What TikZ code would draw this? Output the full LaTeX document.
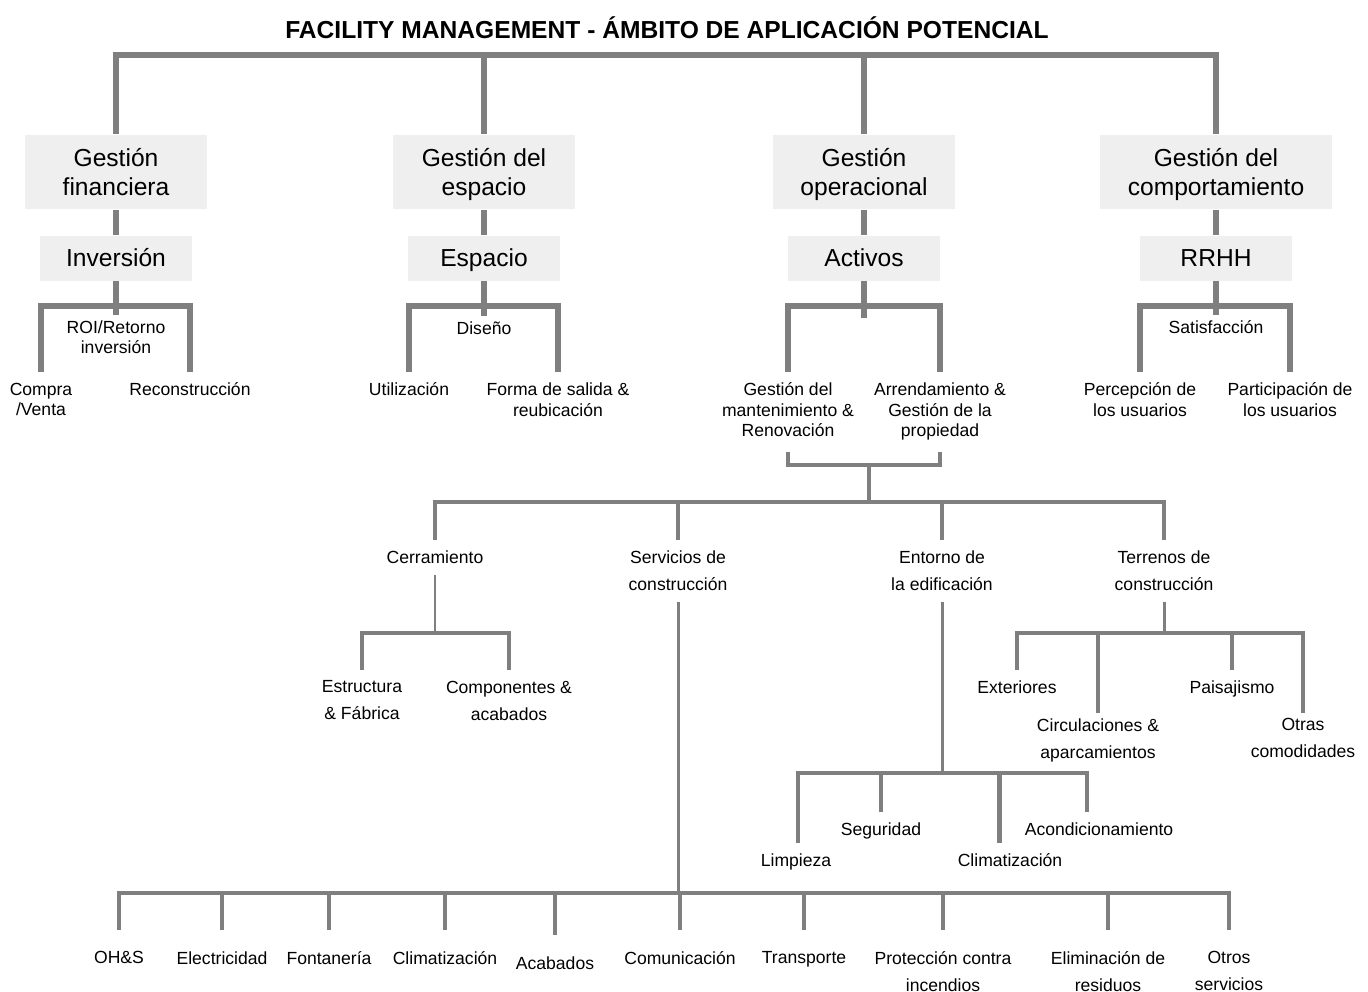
\documentclass[tikz,border=0pt]{standalone}
\usepackage{fontspec}
\setmainfont{Liberation Sans}
\usepackage{xcolor}
\usetikzlibrary{positioning}

\definecolor{lnGray}{HTML}{7F7F7F}
\definecolor{boxGray}{HTML}{EFEFEF}

\tikzset{
  area/.style={fill=boxGray, align=center, inner sep=0pt,
    minimum width=3.66cm, minimum height=1.5cm,
    text height=26.5pt, text depth=0pt,
    font=\fontsize{14}{16.5}\selectfont},
  subarea/.style={area, minimum width=3.04cm, minimum height=0.9cm,
    text height=10pt},
  leaf/.style={align=center, anchor=north, inner xsep=2pt, inner ysep=6pt,
    font=\fontsize{10}{11.6}\selectfont},
  midleaf/.style={leaf, inner ysep=3pt},
  leaftall/.style={leaf, font=\fontsize{10}{15.3}\selectfont},
  midtall/.style={leaftall, inner ysep=3pt},
  baseleaf/.style={leaftall, inner ysep=12pt},
  trunk/.style={color=lnGray, draw, line width=3.4pt},
  branch/.style={color=lnGray, draw, line width=2.4pt},
  stem/.style={color=lnGray, draw, line width=1.7pt},
  twig/.style={color=lnGray, draw, line width=1.1pt}
}

\begin{document}
\begin{tikzpicture}[x=0.02cm, y=-0.02cm]
  \useasboundingbox (0,0) rectangle (1368,991);
  \node[font=\fontsize{14}{16}\selectfont\bfseries] (title) at (667,28)
    {FACILITY MANAGEMENT - ÁMBITO DE APLICACIÓN POTENCIAL};

  % areas
  \node[area] (fin) at (116,172) {Gestión\\financiera};
  \node[area] (esp) at (484,172) {Gestión del\\espacio};
  \node[area] (ope) at (864,172) {Gestión\\operacional};
  \node[area, minimum width=4.64cm] (beh) at (1216,172) {Gestión del\\comportamiento};
  \node[subarea] (inv) at (116,258) {Inversión};
  \node[subarea] (spc) at (484,258) {Espacio};
  \node[subarea] (act) at (864,258) {Activos};
  \node[subarea] (hr) at (1216,258) {RRHH};

  \coordinate (top) at (0,55);
  \draw[trunk] (fin.north) |- (beh.north |- top) -- (beh.north);
  \path[trunk]
    (esp.north) edge (esp.north |- top)
    (ope.north) edge (ope.north |- top)
    (fin.south) edge (inv.north)
    (esp.south) edge (spc.north)
    (ope.south) edge (act.north)
    (beh.south) edge (hr.north);

  % second level
  \coordinate (b2) at (0,306);
  \node[midleaf] (roi) at (116,315) {ROI/Retorno\\inversión};
  \node[leaf] (buy) at (41,372) {Compra\\/Venta};
  \node[leaf] (rec) at (190,372) {Reconstrucción};
  \node[midleaf] (dsn) at (484,316) {Diseño};
  \node[leaf] (use) at (409,372) {Utilización};
  \node[leaf] (exit) at (558,372) {Forma de salida \&\\reubicación};
  \coordinate (actstub) at (864,318);
  \node[leaf] (mnt) at (788,372) {Gestión del\\mantenimiento \&\\Renovación};
  \node[leaf] (lease) at (940,372) {Arrendamiento \&\\Gestión de la\\propiedad};
  \node[midleaf] (sat) at (1216,315) {Satisfacción};
  \node[leaf] (perc) at (1140,372) {Percepción de\\los usuarios};
  \node[leaf] (part) at (1290,372) {Participación de\\los usuarios};

  \draw[trunk] (buy.north) |- (rec.north |- b2) -- (rec.north);
  \draw[trunk] (use.north) |- (exit.north |- b2) -- (exit.north);
  \draw[trunk] (mnt.north) |- (lease.north |- b2) -- (lease.north);
  \draw[trunk] (perc.north) |- (part.north |- b2) -- (part.north);
  \path[trunk]
    (inv.south) edge (roi.north)
    (spc.south) edge (dsn.north)
    (act.south) edge (actstub)
    (hr.south) edge (sat.north);

  % assets
  \coordinate (jtop) at (0,452);
  \coordinate (jn) at (869,465);
  \coordinate (b3) at (0,502);
  \draw[branch] (mnt.south |- jtop) |- (jn) -| (lease.south |- jtop);
  \node[leaf] (encl) at (435,540) {Cerramiento};
  \node[leaftall] (serv) at (678,540) {Servicios de\\construcción};
  \node[leaftall] (envr) at (942,540) {Entorno de\\la edificación};
  \node[leaftall] (site) at (1164,540) {Terrenos de\\construcción};
  \draw[branch] (encl.north) |- (site.north |- b3) -- (site.north);
  \path[branch]
    (serv.north) edge (serv.north |- b3)
    (envr.north) edge (envr.north |- b3)
    (jn) edge (jn |- b3);

  % enclosure and site
  \coordinate (b4) at (0,633);
  \node[leaftall] (strc) at (362,670) {Estructura\\\& Fábrica};
  \node[leaftall] (cmpn) at (509,670) {Componentes \&\\acabados};
  \draw[twig] (encl.south) -- (encl.south |- b4);
  \draw[branch] (strc.north) |- (cmpn.north |- b4) -- (cmpn.north);

  \node[leaf] (extr) at (1017,670) {Exteriores};
  \node[midtall] (circ) at (1098,713) {Circulaciones \&\\aparcamientos};
  \node[leaf] (land) at (1232,670) {Paisajismo};
  \node[midtall] (amen) at (1303,713) {Otras\\comodidades};
  \draw[branch] (extr.north) |- (amen.north |- b4) -- (amen.north);
  \path[branch]
    (circ.north) edge (circ.north |- b4)
    (land.north) edge (land.north |- b4);
  \draw[stem] (site.south) -- (site.south |- b4);

  % building environment
  \coordinate (b5) at (0,773);
  \node[leaf] (clean) at (796,843) {Limpieza};
  \node[leaf] (secu) at (881,812) {Seguridad};
  \node[leaf] (hvac) at (1010,843) {Climatización};
  \node[leaf] (cond) at (1099,812) {Acondicionamiento};
  \draw[stem] (envr.south) -- (envr.south |- b5);
  \draw[branch] ([xshift=1pt]clean.north) |- ([xshift=-7pt]cond.north |- b5)
    -- ([xshift=-7pt]cond.north);
  \path[branch]
    (secu.north) edge (secu.north |- b5)
    ([xshift=-6pt]hvac.north) edge ([xshift=-6pt]hvac.north |- b5);

  % building services
  \coordinate (b6) at (0,893);
  \node[baseleaf] (ohs) at (119,930) {OH\&S};
  \node[baseleaf] (elec) at (222,930) {Electricidad};
  \node[baseleaf] (plmb) at (329,930) {Fontanería};
  \node[baseleaf] (clim) at (445,930) {Climatización};
  \node[baseleaf] (fini) at (555,935) {Acabados};
  \node[baseleaf] (comm) at (680,930) {Comunicación};
  \node[baseleaf] (trns) at (804,930) {Transporte};
  \node[baseleaf] (fire) at (943,930) {Protección contra\\incendios};
  \node[baseleaf] (wast) at (1108,930) {Eliminación de\\residuos};
  \node[baseleaf] (othr) at (1229,930) {Otros\\servicios};
  \draw[stem] (serv.south) -- (serv.south |- b6);
  \draw[branch] (ohs.north) |- (othr.north |- b6) -- (othr.north);
  \path[branch]
    (elec.north) edge (elec.north |- b6)
    (plmb.north) edge (plmb.north |- b6)
    (clim.north) edge (clim.north |- b6)
    (fini.north) edge (fini.north |- b6)
    (comm.north) edge (comm.north |- b6)
    (trns.north) edge (trns.north |- b6)
    (fire.north) edge (fire.north |- b6)
    (wast.north) edge (wast.north |- b6);
\end{tikzpicture}
\end{document}
